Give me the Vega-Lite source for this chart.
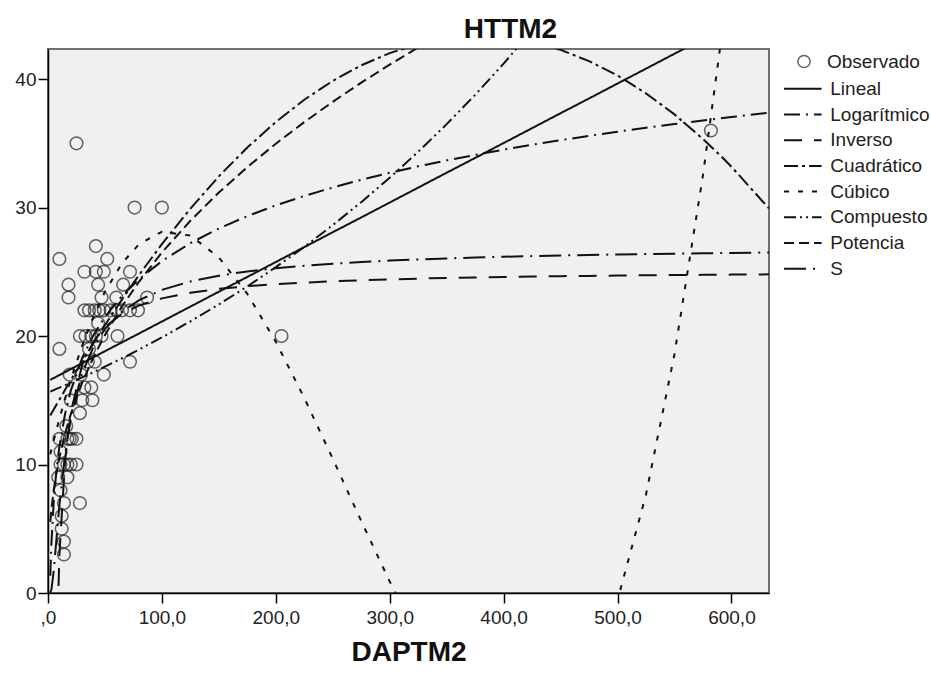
{
  "$schema": "https://vega.github.io/schema/vega-lite/v6.json",
  "width": 721,
  "height": 544,
  "autosize": {"type": "none"},
  "padding": {"left": 48, "top": 49, "right": 162, "bottom": 82},
  "background": "white",
  "config": {
    "font": "Liberation Sans",
    "view": {"fill": "#f0f0f0", "stroke": "#707070", "strokeWidth": 2}
  },
  "title": {
    "text": "HTTM2",
    "font": "Liberation Sans",
    "fontSize": 28,
    "fontWeight": "bold",
    "color": "#111111",
    "anchor": "middle",
    "dx": 102,
    "dy": 25,
    "baseline": "alphabetic",
    "offset": 8
  },
  "datasets": {
    "obs": [
      {"x": 25, "y": 35}, {"x": 76, "y": 30}, {"x": 100, "y": 30}, {"x": 205, "y": 20}, {"x": 582, "y": 36},
      {"x": 42, "y": 27}, {"x": 10, "y": 26}, {"x": 52, "y": 26}, {"x": 32, "y": 25}, {"x": 42, "y": 25},
      {"x": 49, "y": 25}, {"x": 72, "y": 25}, {"x": 18, "y": 24}, {"x": 44, "y": 24}, {"x": 66, "y": 24},
      {"x": 18, "y": 23}, {"x": 47, "y": 23}, {"x": 60, "y": 23}, {"x": 87, "y": 23}, {"x": 32, "y": 22},
      {"x": 36, "y": 22}, {"x": 41, "y": 22}, {"x": 45, "y": 22}, {"x": 49, "y": 22}, {"x": 55, "y": 22},
      {"x": 60, "y": 22}, {"x": 65, "y": 22}, {"x": 72, "y": 22}, {"x": 79, "y": 22}, {"x": 44, "y": 21},
      {"x": 28, "y": 20}, {"x": 33, "y": 20}, {"x": 38, "y": 20}, {"x": 42, "y": 20}, {"x": 47, "y": 20},
      {"x": 61, "y": 20}, {"x": 10, "y": 19}, {"x": 36, "y": 19}, {"x": 35, "y": 18}, {"x": 41, "y": 18},
      {"x": 72, "y": 18}, {"x": 19, "y": 17}, {"x": 29, "y": 17}, {"x": 49, "y": 17}, {"x": 32, "y": 16},
      {"x": 38, "y": 16}, {"x": 20, "y": 15}, {"x": 30, "y": 15}, {"x": 39, "y": 15}, {"x": 28, "y": 14},
      {"x": 16, "y": 13}, {"x": 10, "y": 12}, {"x": 17, "y": 12}, {"x": 19, "y": 12}, {"x": 21, "y": 12},
      {"x": 25, "y": 12}, {"x": 11, "y": 11}, {"x": 11, "y": 10}, {"x": 14, "y": 10}, {"x": 17, "y": 10},
      {"x": 20, "y": 10}, {"x": 25, "y": 10}, {"x": 9, "y": 9}, {"x": 17, "y": 9}, {"x": 11, "y": 8},
      {"x": 14, "y": 7}, {"x": 28, "y": 7}, {"x": 12, "y": 6}, {"x": 12, "y": 5}, {"x": 14, "y": 4},
      {"x": 14, "y": 3}
    ],
    "curves": [
      {"x": 2, "Lineal": 16.59, "Logarítmico": 1.34, "Inverso": -85.85, "Cuadrático": 13.81, "Cúbico": 10.80, "Compuesto": 15.68, "Potencia": 5.54, "S": 0.03},
      {"x": 3, "Lineal": 16.64, "Logarítmico": 3.88, "Inverso": -48.85, "Cuadrático": 13.97, "Cúbico": 11.16, "Compuesto": 15.71, "Potencia": 6.52, "S": 0.27},
      {"x": 5, "Lineal": 16.73, "Logarítmico": 7.07, "Inverso": -19.25, "Cuadrático": 14.28, "Cúbico": 11.86, "Compuesto": 15.79, "Potencia": 8.00, "S": 1.71},
      {"x": 7, "Lineal": 16.82, "Logarítmico": 9.18, "Inverso": -6.56, "Cuadrático": 14.59, "Cúbico": 12.55, "Compuesto": 15.87, "Potencia": 9.15, "S": 3.77},
      {"x": 10, "Lineal": 16.96, "Logarítmico": 11.41, "Inverso": 2.95, "Cuadrático": 15.05, "Cúbico": 13.55, "Compuesto": 15.98, "Potencia": 10.55, "S": 6.81},
      {"x": 15, "Lineal": 17.19, "Logarítmico": 13.95, "Inverso": 10.35, "Cuadrático": 15.81, "Cúbico": 15.12, "Compuesto": 16.18, "Potencia": 12.41, "S": 10.79},
      {"x": 20, "Lineal": 17.43, "Logarítmico": 15.75, "Inverso": 14.05, "Cuadrático": 16.56, "Cúbico": 16.60, "Compuesto": 16.38, "Potencia": 13.92, "S": 13.58},
      {"x": 30, "Lineal": 17.89, "Logarítmico": 18.29, "Inverso": 17.75, "Cuadrático": 18.03, "Cúbico": 19.26, "Compuesto": 16.78, "Potencia": 16.37, "S": 17.10},
      {"x": 40, "Lineal": 18.35, "Logarítmico": 20.09, "Inverso": 19.60, "Cuadrático": 19.46, "Cúbico": 21.54, "Compuesto": 17.19, "Potencia": 18.37, "S": 19.18},
      {"x": 50, "Lineal": 18.82, "Logarítmico": 21.49, "Inverso": 20.71, "Cuadrático": 20.85, "Cúbico": 23.45, "Compuesto": 17.62, "Potencia": 20.08, "S": 20.55},
      {"x": 65, "Lineal": 19.51, "Logarítmico": 23.13, "Inverso": 21.73, "Cuadrático": 22.85, "Cúbico": 25.67, "Compuesto": 18.27, "Potencia": 22.31, "S": 21.90},
      {"x": 80, "Lineal": 20.20, "Logarítmico": 24.43, "Inverso": 22.38, "Cuadrático": 24.76, "Cúbico": 27.16, "Compuesto": 18.95, "Potencia": 24.24, "S": 22.79},
      {"x": 100, "Lineal": 21.13, "Logarítmico": 25.83, "Inverso": 22.93, "Cuadrático": 27.16, "Cúbico": 28.11, "Compuesto": 19.89, "Potencia": 26.50, "S": 23.59},
      {"x": 125, "Lineal": 22.29, "Logarítmico": 27.23, "Inverso": 23.37, "Cuadrático": 29.92, "Cúbico": 27.82, "Compuesto": 21.14, "Potencia": 28.97, "S": 24.25},
      {"x": 150, "Lineal": 23.45, "Logarítmico": 28.37, "Inverso": 23.67, "Cuadrático": 32.43, "Cúbico": 26.12, "Compuesto": 22.46, "Potencia": 31.17, "S": 24.70},
      {"x": 175, "Lineal": 24.60, "Logarítmico": 29.33, "Inverso": 23.88, "Cuadrático": 34.67, "Cúbico": 23.28, "Compuesto": 23.86, "Potencia": 33.15, "S": 25.03},
      {"x": 200, "Lineal": 25.76, "Logarítmico": 30.17, "Inverso": 24.04, "Cuadrático": 36.66, "Cúbico": 19.55, "Compuesto": 25.36, "Potencia": 34.97, "S": 25.28},
      {"x": 225, "Lineal": 26.92, "Logarítmico": 30.90, "Inverso": 24.16, "Cuadrático": 38.39, "Cúbico": 15.18, "Compuesto": 26.94, "Potencia": 36.65, "S": 25.47},
      {"x": 250, "Lineal": 28.08, "Logarítmico": 31.56, "Inverso": 24.26, "Cuadrático": 39.86, "Cúbico": 10.45, "Compuesto": 28.63, "Potencia": 38.23, "S": 25.63},
      {"x": 275, "Lineal": 29.23, "Logarítmico": 32.16, "Inverso": 24.34, "Cuadrático": 41.07, "Cúbico": 5.60, "Compuesto": 30.42, "Potencia": 39.72, "S": 25.76},
      {"x": 300, "Lineal": 30.39, "Logarítmico": 32.71, "Inverso": 24.41, "Cuadrático": 42.02, "Cúbico": 0.90, "Compuesto": 32.32, "Potencia": 41.12, "S": 25.87},
      {"x": 325, "Lineal": 31.55, "Logarítmico": 33.21, "Inverso": 24.47, "Cuadrático": 42.71, "Cúbico": -3.40, "Compuesto": 34.34, "Potencia": 42.46, "S": 25.96},
      {"x": 350, "Lineal": 32.71, "Logarítmico": 33.67, "Inverso": 24.52, "Cuadrático": 43.14, "Cúbico": -7.04, "Compuesto": 36.49, "Potencia": 43.74, "S": 26.04},
      {"x": 375, "Lineal": 33.86, "Logarítmico": 34.10, "Inverso": 24.56, "Cuadrático": 43.31, "Cúbico": -9.76, "Compuesto": 38.77, "Potencia": 44.96, "S": 26.11},
      {"x": 400, "Lineal": 35.02, "Logarítmico": 34.51, "Inverso": 24.60, "Cuadrático": 43.22, "Cúbico": -11.31, "Compuesto": 41.20, "Potencia": 46.14, "S": 26.17},
      {"x": 425, "Lineal": 36.18, "Logarítmico": 34.89, "Inverso": 24.63, "Cuadrático": 42.87, "Cúbico": -11.42, "Compuesto": 43.78, "Potencia": 47.27, "S": 26.22},
      {"x": 450, "Lineal": 37.34, "Logarítmico": 35.24, "Inverso": 24.66, "Cuadrático": 42.27, "Cúbico": -9.84, "Compuesto": 46.52, "Potencia": 48.37, "S": 26.27},
      {"x": 475, "Lineal": 38.49, "Logarítmico": 35.58, "Inverso": 24.68, "Cuadrático": 41.40, "Cúbico": -6.30, "Compuesto": 49.48, "Potencia": 49.42, "S": 26.31},
      {"x": 500, "Lineal": 39.65, "Logarítmico": 35.90, "Inverso": 24.71, "Cuadrático": 40.28, "Cúbico": -0.56, "Compuesto": 52.58, "Potencia": 50.45, "S": 26.35},
      {"x": 525, "Lineal": 40.81, "Logarítmico": 36.21, "Inverso": 24.73, "Cuadrático": 38.89, "Cúbico": 7.65, "Compuesto": 55.87, "Potencia": 51.44, "S": 26.38},
      {"x": 550, "Lineal": 41.97, "Logarítmico": 36.50, "Inverso": 24.75, "Cuadrático": 37.25, "Cúbico": 18.58, "Compuesto": 59.37, "Potencia": 52.41, "S": 26.41},
      {"x": 575, "Lineal": 43.12, "Logarítmico": 36.78, "Inverso": 24.76, "Cuadrático": 35.34, "Cúbico": 32.50, "Compuesto": 63.08, "Potencia": 53.35, "S": 26.44},
      {"x": 590, "Lineal": 43.82, "Logarítmico": 36.94, "Inverso": 24.77, "Cuadrático": 34.08, "Cúbico": 42.39, "Compuesto": 65.43, "Potencia": 53.90, "S": 26.46},
      {"x": 600, "Lineal": 44.28, "Logarítmico": 37.04, "Inverso": 24.78, "Cuadrático": 33.18, "Cúbico": 49.66, "Compuesto": 67.04, "Potencia": 54.26, "S": 26.47},
      {"x": 633, "Lineal": 45.81, "Logarítmico": 37.38, "Inverso": 24.80, "Cuadrático": 29.93, "Cúbico": 77.70, "Compuesto": 72.64, "Potencia": 55.44, "S": 26.50}
    ]
  },
  "encoding": {
    "x": {
      "field": "x",
      "type": "quantitative",
      "scale": {"domain": [0, 633], "nice": false, "zero": false},
      "axis": {
        "values": [0, 100, 200, 300, 400, 500, 600],
        "labelExpr": "datum.value == 0 ? ',0' : replace(format(datum.value, '.1f'), '.', ',')",
        "grid": false,
        "domainColor": "#000000",
        "domainWidth": 1.5,
        "tickColor": "#000000",
        "tickWidth": 1.5,
        "tickSize": 10,
        "labelFont": "Liberation Sans",
        "labelFontSize": 19,
        "labelColor": "#222222",
        "labelPadding": 5,
        "labelFlush": false,
        "labelOverlap": false,
        "title": "DAPTM2",
        "titleFont": "Liberation Sans",
        "titleFontSize": 28,
        "titleFontWeight": "bold",
        "titleColor": "#111111",
        "titlePadding": 11
      }
    },
    "y": {
      "field": "y",
      "type": "quantitative",
      "scale": {"domain": [0, 42.34], "nice": false, "zero": false},
      "axis": {
        "values": [0, 10, 20, 30, 40],
        "grid": false,
        "title": null,
        "domainColor": "#000000",
        "domainWidth": 1.5,
        "tickColor": "#000000",
        "tickWidth": 1.5,
        "tickSize": 10,
        "labelFont": "Liberation Sans",
        "labelFontSize": 19,
        "labelColor": "#222222",
        "labelPadding": 2,
        "labelFlush": false,
        "labelOverlap": false
      }
    }
  },
  "layer": [
    {
      "data": {"name": "obs"},
      "mark": {"type": "point", "shape": "circle", "filled": false, "color": "#222222", "size": 160, "strokeWidth": 1.5, "clip": true},
      "encoding": {
        "shape": {
          "datum": "Observado",
          "type": "nominal",
          "scale": {"domain": ["Observado"], "range": ["circle"]},
          "legend": {
            "title": null,
            "orient": "none",
            "legendX": 746.5,
            "legendY": 3,
            "padding": 0,
            "symbolSize": 150,
            "symbolStrokeColor": "#222222",
            "symbolStrokeWidth": 1.5,
            "symbolFillColor": "transparent",
            "labelFont": "Liberation Sans",
            "labelFontSize": 19,
            "labelColor": "#222222",
            "labelOffset": 13.5
          }
        }
      }
    },
    {
      "data": {"name": "curves"},
      "transform": [
        {"fold": ["Lineal", "Logarítmico", "Inverso", "Cuadrático", "Cúbico", "Compuesto", "Potencia", "S"], "as": ["serie", "y"]}
      ],
      "mark": {"type": "line", "clip": true, "color": "#111111", "strokeWidth": 2},
      "encoding": {
        "strokeDash": {
          "field": "serie",
          "type": "nominal",
          "scale": {
            "domain": ["Lineal", "Logarítmico", "Inverso", "Cuadrático", "Cúbico", "Compuesto", "Potencia", "S"],
            "range": [[1, 0], [16, 6, 2, 6], [18, 12], [14, 4, 3, 4], [5, 9], [12, 4, 2, 4, 2, 4], [10, 5], [22, 7, 2, 7]]
          },
          "legend": {
            "title": null,
            "orient": "none",
            "legendX": 741.3,
            "legendY": 26.3,
            "padding": 0,
            "rowPadding": 1.7,
            "symbolType": "M-1.5,0L1.5,0",
            "symbolSize": 625,
            "symbolStrokeColor": "#111111",
            "symbolStrokeWidth": 2,
            "labelFont": "Liberation Sans",
            "labelFontSize": 19,
            "labelColor": "#222222",
            "labelOffset": 14
          }
        }
      }
    }
  ]
}
